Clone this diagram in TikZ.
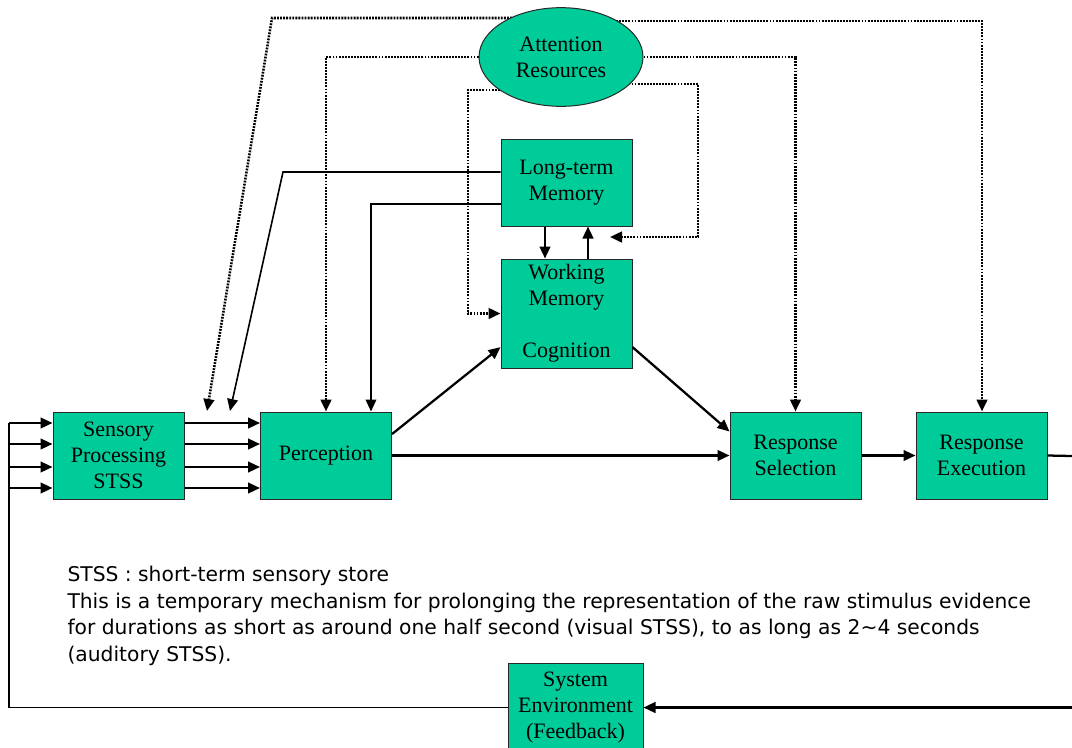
\documentclass[tikz,border=0pt]{standalone}
\usepackage{fontspec}
\setmainfont{Liberation Serif}
\newfontfamily\notefont{DejaVu Sans}
\usetikzlibrary{arrows.meta,shapes.geometric,backgrounds}

\definecolor{boxgreen}{RGB}{0,204,153}
\definecolor{edgegray}{RGB}{40,40,40}

\tikzset{every picture/.style={line width=0.75pt}}
\tikzset{
  stage/.style={draw=edgegray, fill=boxgreen, line width=0.75pt, inner sep=0pt, align=center,
    minimum width=98.25pt, minimum height=65.25pt, font=\fontsize{16.5}{19.5}\selectfont},
  pool/.style={ellipse, draw=edgegray, fill=boxgreen, line width=0.75pt, inner sep=0pt, align=center,
    minimum width=123pt, minimum height=74pt, font=\fontsize{16.5}{19.5}\selectfont},
  flow/.style={line width=1.7pt, -{Triangle[length=9pt,width=8pt]}},
  attn/.style={flow, line width=1.9pt, dash pattern=on 1.4pt off 0.9pt},
  link/.style={line width=1.2pt},
}

\begin{document}
\begin{tikzpicture}[x=0.75pt,y=0.75pt,yscale=-1,xscale=1]
\useasboundingbox (0,0) rectangle (1072,747);
\clip (0,0) rectangle (1072,747);

%Shape: Ellipse
\node[pool] (att) at (561,57) {Attention\\Resources};
%Shape: Rectangle
\node[stage] (ltm) at (566.5,182.5) {Long-term\\Memory};
\node[stage, minimum height=81.75pt] (wm) at (566.5,313.5) {Working\\Memory\\[19.5pt]Cognition};
\node[stage] (sens) at (118.5,455.5) {Sensory\\Processing\\STSS};
\node[stage] (perc) at (326,455.5) {Perception};
\node[stage] (rs) at (795.5,455.5) {Response\\Selection};
\node[stage] (re) at (981.5,455.5) {Response\\Execution};
\node[stage, minimum width=101.25pt, minimum height=66.75pt] (sys) at (575.5,707.5) {System\\Environment\\(Feedback)};

%Text
\node[anchor=north west, inner sep=0pt, align=left, font=\notefont\fontsize{15.2}{19.9}\selectfont] (note) at (67,566)
  {STSS : short-term sensory store\\
   This is a temporary mechanism for prolonging the representation of the raw stimulus evidence\\
   for durations as short as around one half second (visual STSS), to as long as 2\textasciitilde 4 seconds\\
   (auditory STSS).};

%Corner points
\coordinate (cA) at (272,18);
\coordinate (tipA) at (207,411);
\coordinate (cB) at (982,21);
\coordinate (cC) at (468,90);
\coordinate (cD) at (698,84);
\coordinate (tipD) at (610,237);
\coordinate (k1) at (283,172);
\coordinate (tipB) at (230,411);
\coordinate (k2) at (371,204);
\coordinate (m1) at (545,0);
\coordinate (m2) at (588,0);
\coordinate (outR) at (1072,456);
\coordinate (outB) at (1072,707.5);

%Dotted lines from attention
\begin{scope}[on background layer]
\draw[attn] (att.center |- cA) -- (cA) -- (tipA);
\draw[attn] (att.center |- cB) -- (cB) -- (cB |- re.north);
\draw[attn] (att.center |- cC) -- (cC) |- (wm.west);
\draw[attn] (att.center |- cD) -- (cD) |- (tipD);
\end{scope}
\draw[attn] (att.west) -| (perc.north);
\draw[attn] (att.east) -| (rs.north);

%Long-term memory to perception
\draw[link, -{Triangle[length=9pt,width=8pt]}] (ltm.west |- k1) -- (k1) -- (tipB);
\draw[link, -{Triangle[length=9pt,width=8pt]}] (ltm.west |- k2) -- (k2) -- (k2 |- perc.north);

%Memory exchange
\draw[flow] (ltm.south -| m1) -- (wm.north -| m1);
\draw[flow] (wm.north -| m2) -- (ltm.south -| m2);

%Main flow
\foreach \y [count=\i] in {423,444,467,488} {
  \coordinate (in\i) at (9,\y);
  \draw[flow] (in\i) -- (in\i -| sens.west);
  \draw[flow] (in\i -| sens.east) -- (in\i -| perc.west);
}
\draw[flow] (perc.18.8) -- (wm.207.1);
\draw[flow] (wm.-27.1) -- (rs.160.3);
\draw[flow] (perc.east) -- (rs.west);
\draw[flow] (rs.east) -- (re.west);
\draw[line width=1.7pt] (re.east) -- (outR);
\draw[flow] (outB) -- (sys.east);
\draw[link] (sys.west) -| (in1);

\end{tikzpicture}
\end{document}
